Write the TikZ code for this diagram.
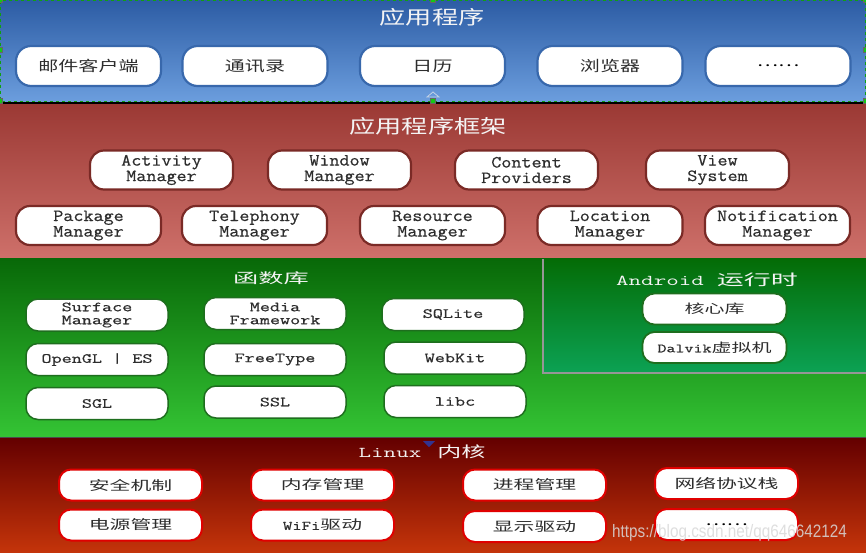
\documentclass[tikz,border=0pt]{standalone}
\usepackage{fontspec}
\newfontfamily\cjkA[FakeStretch=1.38]{Noto Sans CJK SC}
\newfontfamily\cjkB[FakeStretch=1.6]{Noto Sans CJK SC}
\newfontfamily\cjkC[FakeStretch=1.8]{Noto Sans CJK SC}
\newfontfamily\monoA[FakeStretch=1.15,FakeBold=0.6]{Latin Modern Mono}
\newfontfamily\monoB[FakeStretch=1.4,FakeBold=0.6]{Latin Modern Mono}
\newfontfamily\monoC[FakeStretch=1.62]{Latin Modern Mono}
\newfontfamily\wmfont[FakeStretch=0.85]{Liberation Sans}
\definecolor{blueTop}{RGB}{44,92,164}
\definecolor{blueBot}{RGB}{108,158,222}
\definecolor{redTop}{RGB}{155,57,52}
\definecolor{redBot}{RGB}{206,112,106}
\definecolor{greenTop}{RGB}{8,104,8}
\definecolor{greenBot}{RGB}{52,196,52}
\definecolor{rtTop}{RGB}{4,108,6}
\definecolor{rtBot}{RGB}{12,162,84}
\definecolor{lxTop}{RGB}{100,0,0}
\definecolor{lxBot}{RGB}{196,52,10}
\definecolor{appedge}{RGB}{56,104,172}
\definecolor{fwedge}{RGB}{122,42,38}
\definecolor{libedge}{RGB}{30,110,30}
\definecolor{lxedge}{RGB}{224,0,0}
\definecolor{rtedge}{RGB}{150,150,150}
\definecolor{boxtext}{RGB}{45,45,45}
\definecolor{titletext}{RGB}{244,244,244}
\definecolor{handle}{RGB}{20,200,20}
\tikzset{
  basebox/.style={fill=white, inner sep=0pt, align=center, text=boxtext},
  appbox/.style={basebox, draw=appedge, line width=2.2pt, rounded corners=15pt,
    minimum width=145pt, minimum height=40pt, font=\cjkA\fontsize{14.5}{16}\selectfont},
  fwbox/.style={basebox, draw=fwedge, line width=2.2pt, rounded corners=14pt,
    minimum width=143pt, minimum height=39pt, font=\monoA\fontsize{17}{15.5}\selectfont},
  libbox/.style={basebox, draw=libedge, line width=1.5pt, rounded corners=12pt,
    minimum width=142pt, minimum height=32pt, font=\monoB\fontsize{14}{13}\selectfont},
  rtbox/.style={basebox, draw=libedge, line width=1.8pt, rounded corners=12pt,
    minimum width=144pt, minimum height=31pt, font=\fontsize{12.5}{14}\selectfont},
  lxbox/.style={basebox, draw=lxedge, line width=2pt, rounded corners=12pt,
    minimum width=143pt, minimum height=31pt, font=\cjkB\fontsize{13}{14}\selectfont},
  ttl/.style={text=titletext, inner sep=0pt},
  hnd/.style={fill=handle, draw=black!60, line width=0.3pt, minimum size=5pt, inner sep=0pt},
}
\begin{document}
\begin{tikzpicture}[x=1pt,y=-1pt]
\useasboundingbox (0,0) rectangle (866,552);
% bands
\shade[top color=blueTop, bottom color=blueBot] (0,0) rectangle (866,102);
\shade[top color=redTop, bottom color=redBot] (0,104) rectangle (866,258);
\shade[top color=greenTop, bottom color=greenBot] (0,258) rectangle (866,437);
\shade[top color=rtTop, bottom color=rtBot] (543,259) rectangle (866,373);
\draw[rtedge, line width=2pt] (543,259) -- (543,373) -- (866,373);
\shade[top color=lxTop, bottom color=lxBot] (0,438) rectangle (866,552);
\draw[black, line width=2pt] (0,103) -- (866,103);
\draw[black!70, line width=1.2pt] (0,437.5) -- (866,437.5);
% selection marks
\draw[handle!80!black, dashed, line width=0.6pt] (0.5,0.5) rectangle (865.5,101);
\foreach \hx/\hy [count=\i] in {0/0,433/0,866/0,0/50,866/50,0/101,433/101,866/101}
  \node[hnd] (h\i) at (\hx,\hy) {};
\draw[white!70!appedge, line width=0.8pt] (427,97) -- (433,92) -- (439,97) -- cycle;
\fill[black!40!blue!60!gray] (423,441) -- (435,441) -- (429,447) -- cycle;

% applications
\node[ttl, font=\cjkA\fontsize{19}{20}\selectfont] (tApp) at (432,17) {应用程序};
\node[appbox] (mail) at (88.5,66) {邮件客户端};
\node[appbox] (contacts) at (255,66) {通讯录};
\node[appbox] (cal) at (432.5,66) {日历};
\node[appbox] (browser) at (610,66) {浏览器};
\node[appbox, font=\cjkA\fontsize{14.5}{16}\selectfont, text=black] (appmore) at (778,66) {……};

% framework
\node[ttl, font=\cjkA\fontsize{19}{20}\selectfont] (tFw) at (428,126) {应用程序框架};
\node[fwbox] (activity) at (161.5,170) {Activity\\Manager};
\node[fwbox] (window) at (339.5,170) {Window\\Manager};
\node[fwbox] (content) at (526.5,170) {Content\\Providers};
\node[fwbox] (view) at (717.5,170) {View\\System};
\node[fwbox, minimum width=145pt] (package) at (88.5,225.5) {Package\\Manager};
\node[fwbox, minimum width=145pt] (telephony) at (254.5,225.5) {Telephony\\Manager};
\node[fwbox, minimum width=145pt] (resource) at (432.5,225.5) {Resource\\Manager};
\node[fwbox, minimum width=145pt] (location) at (610,225.5) {Location\\Manager};
\node[fwbox, minimum width=145pt] (notification) at (777.5,225.5) {Notification\\Manager};

% libraries
\node[ttl, font=\cjkC\fontsize{14}{15}\selectfont] (tLib) at (271,278) {函数库};
\node[libbox] (surface) at (97,315) {Surface\\Manager};
\node[libbox] (media) at (275,313.5) {Media\\Framework};
\node[libbox] (sqlite) at (453,314.5) {SQLite};
\node[libbox] (opengl) at (97,359.5) {OpenGL | ES};
\node[libbox] (freetype) at (275,359.5) {FreeType};
\node[libbox] (webkit) at (455,358) {WebKit};
\node[libbox] (sgl) at (97,403.5) {SGL};
\node[libbox] (ssl) at (275,402) {SSL};
\node[libbox] (libc) at (455,401.5) {libc};

% android runtime
\node[ttl, font=\fontsize{15}{16}\selectfont] (tRt) at (707,280) {{\monoC Android}\hspace{13pt}{\cjkC 运行时}};
\node[rtbox, font=\cjkB\fontsize{12.5}{14}\selectfont] (core) at (714.5,309) {核心库};
\node[rtbox] (dalvik) at (714.5,347.5) {{\monoB Dalvik}{\cjkB 虚拟机}};

% linux kernel
\node[ttl, font=\fontsize{15}{16}\selectfont] (tLx) at (422,452) {{\monoC Linux}\hspace{16pt}{\cjkB 内核}};
\node[lxbox] (security) at (130.5,485) {安全机制};
\node[lxbox] (memory) at (322.5,485) {内存管理};
\node[lxbox] (process) at (534.5,485) {进程管理};
\node[lxbox] (network) at (726.5,483.5) {网络协议栈};
\node[lxbox] (power) at (130.5,525) {电源管理};
\node[lxbox] (wifi) at (322.5,525) {{\monoB WiFi}驱动};
\node[lxbox] (display) at (534.5,526.5) {显示驱动};
\node[lxbox, font=\cjkA\fontsize{14.5}{16}\selectfont, text=black] (lxmore) at (726.5,524.5) {……};

% watermark
\node[anchor=west, inner sep=0pt, text=white!85!black, opacity=0.85, font=\wmfont\fontsize{18}{20}\selectfont] (wm) at (612,533) {https://blog.csdn.net/qq646642124};
\end{tikzpicture}
\end{document}
